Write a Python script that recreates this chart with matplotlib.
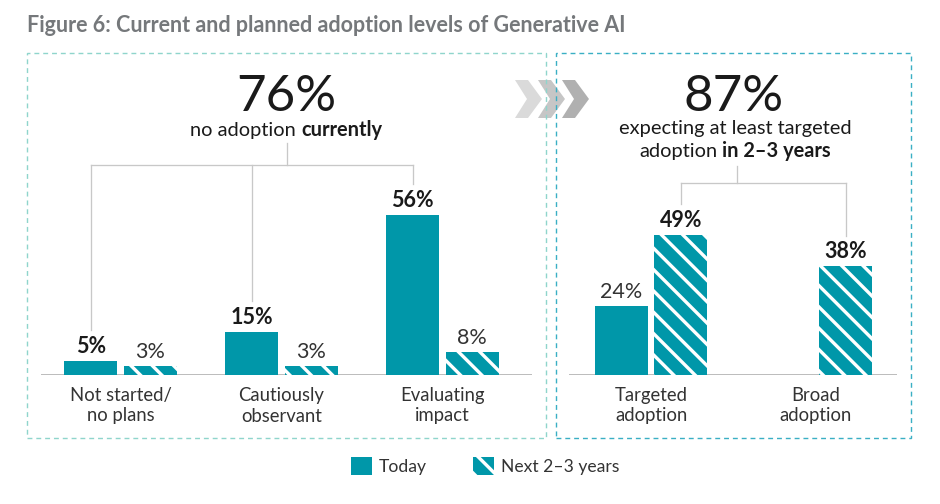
import matplotlib
matplotlib.use("Agg")
from matplotlib import pyplot as plt
from matplotlib.patches import Rectangle, Polygon, Patch

# data
left_categories = ["Not started/\nno plans", "Cautiously\nobservant", "Evaluating\nimpact"]
left_today = [5, 15, 56]
left_next = [3, 3, 8]
right_categories = ["Targeted\nadoption", "Broad\nadoption"]
right_today = [24, None]
right_next = [49, 38]
series_labels = ["Today", "Next 2\u20133 years"]

DPI = 128
W, H = 940, 504
BASE_Y = 375          # baseline, px from top
PX_PER_PCT = 2.86
TEAL = "#0097a9"
DARK = "#1a1a1a"
MID = "#333333"
LINE = "#c8c8c8"
THIN = "normal"

plt.rcParams["font.family"] = ["Lato", "DejaVu Sans"]
plt.rcParams["hatch.linewidth"] = 1.9
HATCH = "\\\\"


def fx(x):
	return x / W


def fy(y):
	return 1 - y / H


def pt(px):
	return px * 72 / DPI


def make_axes(fig, x0, x1, c0, unit):
	top = 55
	ax = fig.add_axes([fx(x0), fy(BASE_Y), (x1 - x0) / W, (BASE_Y - top) / H])
	ax.set_xlim((x0 - c0) / unit, (x1 - c0) / unit)
	ax.set_ylim(0, (BASE_Y - top) / PX_PER_PCT)
	ax.axis("off")
	ax.axhline(0, color="#bdbdbd", lw=pt(2), zorder=1)
	return ax


def draw_group(ax, cats, today, nxt, unit, bold_today):
	w = 53 / unit
	off = 29.75 / unit
	for i, (c, t, n) in enumerate(zip(cats, today, nxt)):
		if t is not None:
			ax.bar(i - off, t, w, color=TEAL, lw=0, zorder=2)
			ax.annotate("%d%%" % t, (i - off, t), xytext=(0, pt(8)), textcoords="offset points",
						ha="center", va="baseline", fontsize=pt(21.5),
						fontweight="bold" if bold_today else THIN,
						color=DARK if bold_today else MID)
		ax.bar(i + off, n, w, facecolor=TEAL, edgecolor="white", hatch=HATCH, lw=0, zorder=2)
		ax.annotate("%d%%" % n, (i + off, n), xytext=(0, pt(8)), textcoords="offset points",
					ha="center", va="baseline", fontsize=pt(21.5),
					fontweight=THIN if bold_today else "bold",
					color=MID if bold_today else DARK)
		ax.annotate(c, (i, 0), xytext=(0, -pt(12)), textcoords="offset points",
					ha="center", va="top", fontsize=pt(18.5), fontweight=THIN,
					color=MID, linespacing=1.25)
	return off


def connector(ax, xs, tops, y_join, x_stub, y_stub):
	ax.plot([min(xs), max(xs)], [y_join, y_join], color=LINE, lw=pt(1.3), zorder=1)
	for x, t in zip(xs, tops):
		ax.plot([x, x], [t + 10.7, y_join], color=LINE, lw=pt(1.3), zorder=1)
	ax.plot([x_stub, x_stub], [y_join, y_stub], color=LINE, lw=pt(1.3), zorder=1)


def rich_line(fig, xc, ybase, parts, size):
	r = fig.canvas.get_renderer()
	a = fig.text(0, 0, "a a", fontsize=size, fontweight=THIN)
	b = fig.text(0, 0, "aa", fontsize=size, fontweight=THIN)
	space = a.get_window_extent(r).width - b.get_window_extent(r).width
	a.remove()
	b.remove()
	texts, widths = [], []
	for s, wgt in parts:
		t = fig.text(0, fy(ybase), s, fontsize=size, fontweight=wgt, va="baseline", ha="left",
					 color=DARK)
		texts.append(t)
		widths.append(t.get_window_extent(r).width)
	x = xc - (sum(widths) + space * (len(parts) - 1)) / 2
	for t, wd in zip(texts, widths):
		t.set_x(fx(x))
		x += wd + space


def main():
	fig = plt.figure(figsize=(W / DPI, H / DPI), dpi=DPI)

	fig.text(fx(27), fy(32), "Figure 6: Current and planned adoption levels of Generative AI",
			 fontsize=pt(21.5), fontweight="bold", color="#75787b", va="baseline", ha="left")

	# chevrons
	for x0, col in zip([515, 538, 562], ["#d6d6d6", "#c0c0c0", "#a8a8a8"]):
		pts = [(x0, 80), (x0 + 13, 80), (x0 + 27, 99), (x0 + 13, 118), (x0, 118), (x0 + 12, 99)]
		fig.patches.append(Polygon([(fx(x), fy(y)) for x, y in pts], closed=True,
								   transform=fig.transFigure, facecolor=col, alpha=0.9,
								   lw=0, zorder=0))

	# dashed boxes
	for x0, x1, col in [(27, 546, "#8fd5cc"), (556, 911, "#3aafc4")]:
		fig.patches.append(Rectangle((fx(x0), fy(438)), (x1 - x0) / W, (438 - 53) / H,
									 transform=fig.transFigure, fill=False, edgecolor=col,
									 lw=pt(1.4), linestyle=(0, (3.5, 2.8)), zorder=3))

	# left panel
	unit_l = 161
	ax1 = make_axes(fig, 41, 532, 120.5, unit_l)
	off = draw_group(ax1, left_categories, left_today, left_next, unit_l, True)
	xs = [i - off for i in range(len(left_today))]
	connector(ax1, xs, left_today, (BASE_Y - 165) / PX_PER_PCT, (287 - 120.5) / unit_l,
			  (BASE_Y - 143) / PX_PER_PCT)

	# right panel
	unit_r = 165
	ax2 = make_axes(fig, 569, 897, 651, unit_r)
	off = draw_group(ax2, right_categories, right_today, right_next, unit_r, False)
	xs = [i + off for i in range(len(right_next))]
	connector(ax2, xs, right_next, (BASE_Y - 183) / PX_PER_PCT, (737 - 651) / unit_r,
			  (BASE_Y - 166) / PX_PER_PCT)

	fig.text(fx(286), fy(111), "76%", fontsize=pt(51), fontweight=THIN, color=DARK,
			 ha="center", va="baseline")
	rich_line(fig, 286, 136, [("no adoption", THIN), ("currently", "bold")], pt(20))
	fig.text(fx(734), fy(111), "87%", fontsize=pt(51), fontweight=THIN, color=DARK,
			 ha="center", va="baseline")
	rich_line(fig, 735, 134, [("expecting at least targeted", THIN)], pt(20))
	rich_line(fig, 735, 157, [("adoption", THIN), ("in 2\u20133 years", "bold")], pt(20))

	handles = [Patch(facecolor=TEAL, lw=0),
			   Patch(facecolor=TEAL, edgecolor="white", hatch=HATCH, lw=0)]
	fig.legend(handles, series_labels, loc="center", bbox_to_anchor=(fx(485), fy(466)),
			   ncol=2, frameon=False, prop={"size": pt(17.5), "weight": THIN},
			   handlelength=1.2, handleheight=1.2, handletextpad=0.4, columnspacing=2.6,
			   labelcolor=MID)

	fig.savefig("out.png", dpi=DPI)


if __name__ == "__main__":
	main()
